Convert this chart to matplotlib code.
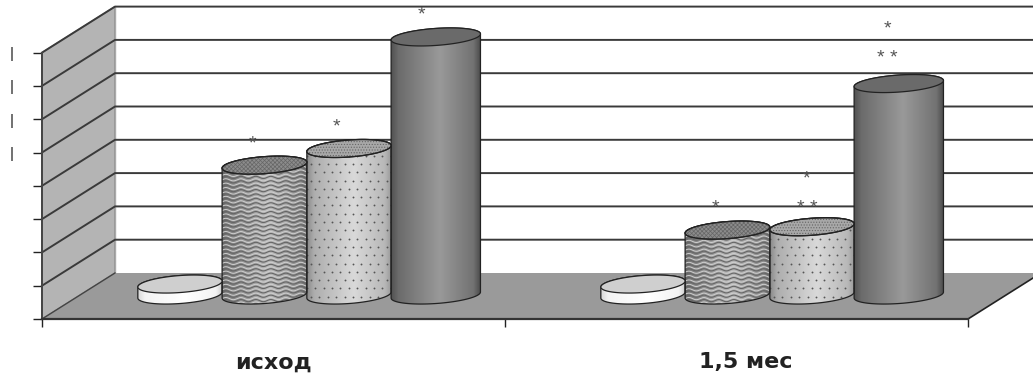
import numpy as np
import matplotlib
matplotlib.use("Agg")
import matplotlib.pyplot as plt
from matplotlib.patches import Polygon

categories = ["исход", "1,5 мес"]
values_base = [3.3, 3.3]
values_wave = [39, 19.5]
values_dots = [44, 20.5]
values_solid = [77.5, 63.5]
y_ticks = [0, 10, 20, 30, 40, 50, 60, 70, 80]
y_labels = ["", "", "", "", "", "|", "|", "|", "|"]
# stars over each bar: (group, bar index, text, height above the bar top, x position in the group)
star_marks = [(0, 1, "*", 6.5, 0.455), (0, 2, "*", 6.5, 0.637), (0, 3, "*", 6.5, 0.82),
              (1, 1, "*", 6.5, 0.455), (1, 2, "* *", 5.5, 0.652), (1, 2, "*", 14.5, 0.652),
              (1, 3, "* *", 7.5, 0.825), (1, 3, "*", 16.5, 0.825)]

plt.rcParams["font.family"] = ["Liberation Sans", "DejaVu Sans"]
plt.rcParams["hatch.linewidth"] = 0.5

PX_X = 463.0
PX_Y = 3.33
DX = 73 / PX_X
DY = 46 / PX_Y
BASE = 7.2
BAR_EDGES = [0.207, 0.389, 0.572, 0.754, 0.947]
B = 8.5 / PX_Y
S = 3 / PX_Y

fig = plt.figure(figsize=(10.33, 3.79), dpi=100)
ax = fig.add_axes([0, 0, 1, 1])
xlim = (-42 / PX_X, (1033 - 42) / PX_X)
ylim = (-60 / PX_Y, 319 / PX_Y)

# walls and floor
ax.add_patch(Polygon([(0, 0), (DX, DY), (DX, 80 + DY), (0, 80)], fc="#b4b4b4", ec="#888888", lw=1, zorder=1))
ax.add_patch(Polygon([(0, 0), (2, 0), (2 + DX, DY), (DX, DY)], fc="#9a9a9a", ec="none", zorder=1))
ax.plot([2, 2 + DX], [0, DY], color="#222222", lw=1.2, zorder=1.5)
ax.plot([DX, DX], [DY, 80 + DY], color="#aaaaaa", lw=1, zorder=1.2)
ax.plot([0, DX], [0, DY], color="#444444", lw=1, zorder=1.5)
for v in y_ticks[1:]:
    ax.plot([0, DX, xlim[1]], [v, v + DY, v + DY], color="#3a3a3a", lw=1.4, zorder=1.4)


def ellipse(cx, cy, a, t):
    return cx + a * np.cos(t), cy + B * np.sin(t) + S * np.cos(t)


def draw_cyl(x0, x1, top, shades, style=None, top_color="#999999"):
    cx = (x0 + x1) / 2
    a = (x1 - x0) / 2
    t = np.linspace(0, 2 * np.pi, 120)
    # body outline: lower half of the base, then back up over the top
    low = np.linspace(np.pi, 2 * np.pi, 60)
    bx, by = ellipse(cx, BASE, a, low)
    hi = np.linspace(0, np.pi, 60)
    tx, ty = ellipse(cx, top, a, hi)
    outline = np.column_stack([np.r_[bx, tx], np.r_[by, ty]])
    ax.add_patch(Polygon(outline, fc="none", ec="#222222", lw=0.9, zorder=5))
    grad = np.interp(np.linspace(0, 1, 90), [0, 0.08, 0.55, 0.92, 1], shades)
    im = ax.imshow(grad[None, :], extent=(x0, x1, BASE - 5, top + 5), cmap="gray", vmin=0, vmax=1,
                   aspect="auto", interpolation="bilinear", zorder=3)
    clip = Polygon(outline, transform=ax.transData)
    im.set_clip_path(clip)
    if style == "wave":
        xs = np.linspace(x0, x1, 200)
        for level in np.arange(BASE - 3, top + 3, 4.4 / PX_Y):
            wave = 1.1 / PX_Y * np.sin((xs - x0) * PX_X / 15 * 2 * np.pi)
            l1, = ax.plot(xs, level + wave, color="#666666", lw=0.8, zorder=3.5)
            l2, = ax.plot(xs, level + wave + 2.0 / PX_Y, color="#cfcfcf", lw=0.7, zorder=3.4)
            l1.set_clip_path(clip)
            l2.set_clip_path(clip)
    if style == "dots":
        px, py = [], []
        for i, level in enumerate(np.arange(BASE - 3, top + 3, 8.3 / PX_Y)):
            shift = 0 if i % 2 == 0 else 4.2 / PX_X
            grid = np.arange(x0 + shift, x1, 8.4 / PX_X)
            px += list(grid)
            py += [level] * len(grid)
        sc = ax.scatter(px, py, s=1.8, color="#555555", linewidths=0, zorder=3.5)
        sc.set_clip_path(clip)
    ex, ey = ellipse(cx, top, a, t)
    hatch = {"wave": "xxxxxxxx", "dots": "......"}.get(style)
    ax.add_patch(Polygon(np.column_stack([ex, ey]), fc=top_color, ec="#222222", lw=0.9, zorder=6))
    if hatch:
        ax.add_patch(Polygon(np.column_stack([ex, ey]), fc="none", ec="#666666", hatch=hatch, lw=0, zorder=6))
        ax.add_patch(Polygon(np.column_stack([ex, ey]), fc="none", ec="#222222", lw=0.9, zorder=6))


for g in range(2):
    e = [g + v for v in BAR_EDGES]
    draw_cyl(e[0], e[1], BASE + values_base[g], [0.85, 0.95, 1.0, 0.95, 0.8], top_color="#cfcfcf")
    draw_cyl(e[1], e[2], BASE + values_wave[g], [0.4, 0.5, 0.72, 0.55, 0.42], "wave", "#8c8c8c")
    draw_cyl(e[2], e[3], BASE + values_dots[g], [0.55, 0.68, 0.85, 0.72, 0.6], "dots", "#a8a8a8")
    draw_cyl(e[3], e[4], BASE + values_solid[g], [0.32, 0.42, 0.6, 0.45, 0.3], None, "#6a6a6a")

tops = [values_base, values_wave, values_dots, values_solid]
for g, i, txt, up, sx in star_marks:
    ax.text(g + sx, BASE + tops[i][g] + up, txt, ha="center", va="center", fontsize=14,
            color="#555555", zorder=7)

ax.set_xlim(xlim)
ax.set_ylim(ylim)
for name in ["top", "right"]:
    ax.spines[name].set_visible(False)
ax.spines["left"].set_position(("data", 0))
ax.spines["left"].set_bounds(0, 80)
ax.spines["bottom"].set_position(("data", 0))
ax.spines["bottom"].set_bounds(0, 2)
ax.spines["left"].set_color("#444444")
ax.spines["bottom"].set_color("#333333")
ax.spines["left"].set_linewidth(1.4)
ax.spines["bottom"].set_linewidth(1.6)
ax.spines["left"].set_zorder(2)
ax.spines["bottom"].set_zorder(2)
ax.set_yticks(y_ticks)
ax.set_yticklabels(y_labels, fontsize=11, color="#222222")
ax.tick_params(axis="y", length=6.5, width=1, color="#222222", pad=14)
ax.set_xticks([0, 1, 2])
ax.set_xticklabels([])
ax.set_xticks([0.5, 1.52], labels=categories, minor=True)
ax.tick_params(axis="x", which="major", length=6, width=1, color="#222222")
ax.tick_params(axis="x", which="minor", length=0, pad=24, labelsize=16)
for lab in ax.get_xminorticklabels():
    lab.set_fontfamily("DejaVu Sans")
    lab.set_fontweight("bold")
    lab.set_color("#222222")

fig.savefig("out.png", dpi=100)
